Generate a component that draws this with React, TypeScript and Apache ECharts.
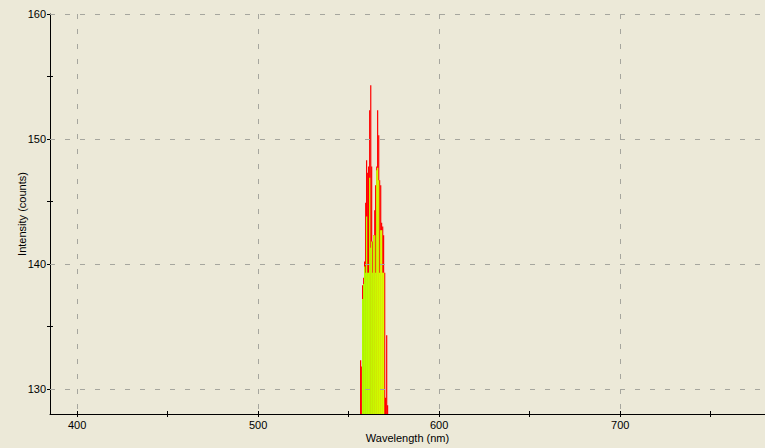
import React, { useEffect, useRef } from "react";
import * as echarts from "echarts";

// Wavelength (nm) of each detector column in the peak
const wavelengths = [
  556.6, 557.2, 557.7, 558.3, 558.8, 559.4, 559.9, 560.5, 561.0, 561.6,
  562.2, 562.7, 563.3, 563.8, 564.4, 564.9, 565.5, 566.0, 566.6, 567.1,
  567.7, 568.2, 568.8, 569.3, 569.9, 570.4, 571.0, 571.5,
];
// Red trace (intensity, counts)
const redValues = [
  132.3, 131.8, 138.3, 138.9, 140.2, 144.9, 148.3, 147.3, 147.8, 152.3,
  154.3, 147.8, 141.8, 142.3, 144.3, 146.3, 147.8, 152.3, 150.3, 146.7,
  146.3, 143.3, 143.0, 142.3, 139.3, 129.3, 134.3, 128.7,
];
// Yellow-green fill trace (intensity, counts); null = none
const fillValues: (number | null)[] = [
  null, null, 137.2, 138.4, 139.8, 139.3, 143.8, 139.3, 139.3, 146.9,
  141.3, 141.8, 139.3, 142.3, 142.3, 139.3, 147.5, 147.7, 146.7, 139.3,
  142.7, 142.7, 139.3, 139.3, null, null, null, null,
];

const xMajorTicks = [400, 500, 600, 700];
const xMinorTicks = [450, 550, 650, 750];
const yMajorTicks = [130, 140, 150, 160];
const yMinorTicks = [135, 145, 155];

const X_MIN = 385;
const X_MAX = 780;
const Y_MIN = 128;
const Y_MAX = 160;

const FONT = "Liberation Sans";
const BG = "#ece9d8";
const GRID_COLOR = "#a6a69e";

export default function App() {
  const ref = useRef<HTMLDivElement>(null);

  useEffect(() => {
    if (!ref.current) return;
    const chart = echarts.init(ref.current, undefined, { renderer: "svg" });

    const allX = [...xMajorTicks, ...xMinorTicks];
    const allY = [...yMajorTicks, ...yMinorTicks];

    const baseX = { type: "value", min: X_MIN, max: X_MAX, position: "bottom", offset: 0 };
    const baseY = { type: "value", min: Y_MIN, max: Y_MAX, position: "left", offset: 0 };

    const option: any = {
      animation: false,
      backgroundColor: BG,
      grid: {
        left: 50,
        right: 0,
        top: 14,
        bottom: 34,
        containLabel: false,
        outerBoundsMode: "none",
      },
      xAxis: [
        {
          ...baseX,
          name: "Wavelength (nm)",
          nameLocation: "middle",
          nameGap: 18,
          nameMoveOverlap: false,
          nameTextStyle: { color: "#000", fontFamily: FONT, fontSize: 11 },
          axisLine: { show: true, onZero: false, lineStyle: { color: "#000", width: 1 } },
          axisTick: {
            show: true,
            inside: false,
            length: 3,
            customValues: allX,
            lineStyle: { color: "#000", width: 1 },
          },
          axisLabel: {
            show: true,
            customValues: xMajorTicks,
            margin: 5,
            color: "#000",
            fontFamily: FONT,
            fontSize: 11,
          },
          splitLine: { show: false },
        },
        {
          ...baseX,
          axisLine: { show: false },
          axisTick: {
            show: true,
            inside: true,
            length: 3,
            customValues: allX,
            lineStyle: { color: "#000", width: 1 },
          },
          axisLabel: { show: false },
          splitLine: { show: false },
        },
        {
          ...baseX,
          z: 5,
          axisLine: { show: false },
          axisTick: { show: false, customValues: xMajorTicks },
          axisLabel: { show: false },
          splitLine: {
            show: true,
            lineStyle: { color: GRID_COLOR, width: 1, type: [5, 10] },
          },
        },
      ],
      yAxis: [
        {
          ...baseY,
          name: "Intensity (counts)",
          nameLocation: "middle",
          nameGap: 23,
          nameMoveOverlap: false,
          nameTextStyle: { color: "#000", fontFamily: FONT, fontSize: 11 },
          axisLine: { show: true, onZero: false, lineStyle: { color: "#000", width: 1 } },
          axisTick: {
            show: true,
            inside: false,
            length: 3,
            customValues: allY,
            lineStyle: { color: "#000", width: 1 },
          },
          axisLabel: {
            show: true,
            customValues: yMajorTicks,
            margin: 4,
            color: "#000",
            fontFamily: FONT,
            fontSize: 11,
          },
          splitLine: { show: false },
        },
        {
          ...baseY,
          axisLine: { show: false },
          axisTick: {
            show: true,
            inside: true,
            length: 3,
            customValues: allY,
            lineStyle: { color: "#000", width: 1 },
          },
          axisLabel: { show: false },
          splitLine: { show: false },
        },
        {
          ...baseY,
          z: 5,
          axisLine: { show: false },
          axisTick: { show: false, customValues: yMajorTicks },
          axisLabel: { show: false },
          splitLine: {
            show: true,
            lineStyle: { color: GRID_COLOR, width: 1, type: [5, 10] },
          },
        },
      ],
      series: [
        {
          type: "bar",
          xAxisIndex: 0,
          yAxisIndex: 0,
          data: wavelengths.map((w, i) => [w, redValues[i]]),
          barWidth: 1.2,
          barGap: "-100%",
          clip: true,
          itemStyle: { color: "#ff0000" },
          silent: true,
        },
        {
          type: "bar",
          xAxisIndex: 0,
          yAxisIndex: 0,
          data: wavelengths.map((w, i) => [w, fillValues[i] == null ? "-" : fillValues[i]]),
          barWidth: 1.2,
          barGap: "-100%",
          clip: true,
          itemStyle: {
            color: {
              type: "linear",
              x: 360,
              y: 0,
              x2: 385,
              y2: 0,
              global: true,
              colorStops: [
                { offset: 0, color: "#a8ff00" },
                { offset: 1, color: "#dcff00" },
              ],
            },
          },
          silent: true,
        },
      ],
    };

    chart.setOption(option);
    return () => chart.dispose();
  }, []);

  return (
    <div
      ref={ref}
      style={{ position: "absolute", left: 0, top: 0, width: 765, height: 448 }}
    />
  );
}
